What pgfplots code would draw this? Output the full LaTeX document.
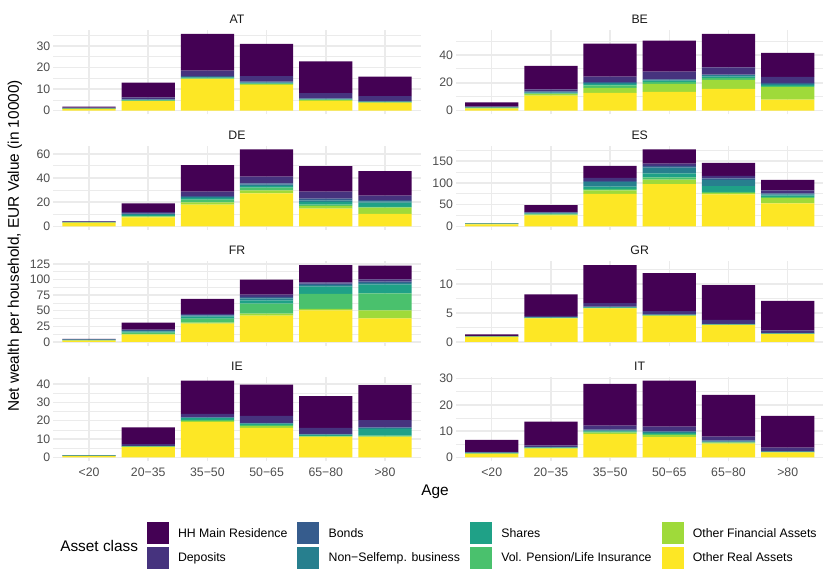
\documentclass[border=0pt]{standalone}
\usepackage{fontspec}
\setmainfont{Liberation Sans}
\usepackage{pgfplots}
\usepackage{pgfplotstable}
\pgfplotsset{compat=1.18}

\definecolor{cHMR}{HTML}{440154}
\definecolor{cDE}{HTML}{46337E}
\definecolor{cBO}{HTML}{365C8D}
\definecolor{cNS}{HTML}{277F8E}
\definecolor{cSH}{HTML}{1FA187}
\definecolor{cVP}{HTML}{4AC16D}
\definecolor{cOFA}{HTML}{9FDA3A}
\definecolor{cORA}{HTML}{FDE725}
\definecolor{gridc}{HTML}{EBEBEB}
\definecolor{tickc}{HTML}{4D4D4D}
\definecolor{stripc}{HTML}{1A1A1A}

% columns: Other Real, Other Financial, Vol. Pension, Shares, Non-Selfemp., Bonds, Deposits, HH Main Residence
\pgfplotstableread{
x ora ofa vp sh ns bo de hmr
0 0.8 0.05 0.05 0.05 0.05 0.05 0.3 0.5
1 4.4 0.2 0.2 0.1 0.2 0.1 1.0 6.8
2 14.6 0.3 0.3 0.2 0.3 0.3 2.6 17.1
3 12.0 0.3 0.3 0.2 0.3 0.4 2.6 14.9
4 4.6 0.3 0.2 0.1 0.2 0.3 2.5 14.7
5 3.6 0.2 0.2 0.1 0.1 0.3 2.3 9.0
}\dataAT
\pgfplotstableread{
x ora ofa vp sh ns bo de hmr
0 1.5 0.4 0.2 0.1 0.1 0.2 0.5 3.0
1 10.8 1.0 0.5 0.4 0.4 0.8 1.3 16.9
2 12.7 3.6 1.9 1.0 0.7 0.5 4.0 23.7
3 13.4 5.8 1.4 1.0 0.4 0.5 5.5 22.3
4 15.6 6.4 1.5 0.9 1.0 0.5 5.2 24.0
5 7.9 8.9 0.9 0.7 0.8 0.7 4.3 17.2
}\dataBE
\pgfplotstableread{
x ora ofa vp sh ns bo de hmr
0 3.0 0.1 0.1 0.1 0.1 0.2 0.4 0.2
1 7.4 0.6 0.6 0.8 0.6 0.5 1.2 7.3
2 17.9 1.9 2.2 1.4 0.8 0.8 3.6 22.0
3 27.2 2.5 2.2 1.4 1.1 1.1 5.5 22.6
4 14.6 2.2 1.1 2.2 1.4 1.3 5.8 21.2
5 10.2 5.2 0.6 3.5 1.1 1.1 3.6 20.4
}\dataDE
\pgfplotstableread{
x ora ofa vp sh ns bo de hmr
0 4.6 0.6 0.3 0.3 0.3 0.2 0.3 0.3
1 25.1 1.6 1.0 1.5 1.5 0.5 2.0 15.5
2 74.6 7.7 3.8 5.3 9.9 3.0 6.9 27.4
3 96.7 10.7 5.3 9.2 12.9 3.8 5.4 32.7
4 73.1 3.8 2.3 13.0 14.4 3.8 5.4 29.7
5 52.6 12.9 2.3 3.0 2.3 2.3 6.9 24.3
}\dataES
\pgfplotstableread{
x ora ofa vp sh ns bo de hmr
0 2.1 0.3 0.5 0.3 0.2 0.2 0.4 0.8
1 11.8 1.0 2.2 1.6 1.0 1.1 1.1 11.2
2 29.4 1.6 6.4 3.2 1.6 1.1 1.6 24.0
3 42.2 3.2 16.0 5.4 3.2 2.1 3.8 24.0
4 50.7 2.2 24.0 11.8 2.6 2.2 2.1 27.8
5 37.9 12.8 27.3 13.9 2.7 2.1 3.7 21.9
}\dataFR
\pgfplotstableread{
x ora ofa vp sh ns bo de hmr
0 0.87 0.02 0.02 0.01 0.02 0.02 0.08 0.25
1 4.07 0.05 0.03 0.03 0.05 0.05 0.2 3.72
2 5.8 0.05 0.05 0.05 0.05 0.1 0.6 6.6
3 4.5 0.05 0.04 0.03 0.03 0.1 0.55 6.6
4 2.9 0.04 0.03 0.03 0.03 0.07 0.7 6.0
5 1.35 0.03 0.02 0.02 0.03 0.1 0.45 5.1
}\dataGR
\pgfplotstableread{
x ora ofa vp sh ns bo de hmr
0 0.7 0.1 0.1 0.1 0.05 0.05 0.1 0.1
1 5.7 0.1 0.2 0.1 0.05 0.15 0.9 9.1
2 19.2 0.7 0.6 0.9 0.3 0.2 1.8 18.1
3 16.1 0.9 0.7 0.6 0.2 0.3 3.8 17.0
4 11.1 0.4 0.2 0.5 0.3 0.3 3.3 17.3
5 11.1 0.4 0.4 3.6 0.4 0.4 4.0 19.0
}\dataIE
\pgfplotstableread{
x ora ofa vp sh ns bo de hmr
0 1.4 0.1 0.1 0.1 0.05 0.15 0.2 4.6
1 3.4 0.1 0.1 0.1 0.1 0.2 0.6 9.0
2 8.9 0.5 0.4 0.2 0.3 0.3 1.5 15.9
3 7.75 0.75 0.5 0.3 0.4 0.2 1.8 17.5
4 5.3 0.3 0.1 0.15 0.25 0.4 1.4 15.9
5 1.9 0.1 0.05 0.05 0.1 0.2 1.3 12.1
}\dataIT

\newcommand{\stackbars}[1]{%
  \addplot[fill=cORA, draw=none] table[x=x,y=ora]{#1};
  \addplot[fill=cOFA, draw=none] table[x=x,y=ofa]{#1};
  \addplot[fill=cVP, draw=none] table[x=x,y=vp]{#1};
  \addplot[fill=cSH, draw=none] table[x=x,y=sh]{#1};
  \addplot[fill=cNS, draw=none] table[x=x,y=ns]{#1};
  \addplot[fill=cBO, draw=none] table[x=x,y=bo]{#1};
  \addplot[fill=cDE, draw=none] table[x=x,y=de]{#1};
  \addplot[fill=cHMR, draw=none] table[x=x,y=hmr]{#1};
}

\pgfplotsset{
  panel/.style={
    scale only axis, width=367pt, height=84.5pt,
    anchor=south west,
    xmin=-0.6, xmax=5.6,
    ybar stacked, bar width=0.9,
    xtick={0,1,2,3,4,5}, xticklabels={},
    xmajorgrids=true, ymajorgrids=true, yminorgrids=true,
    major grid style={draw=gridc, line width=1.5pt},
    minor grid style={draw=gridc, line width=0.75pt},
    axis line style={draw=none},
    tick style={draw=none},
    major tick length=0pt, minor tick length=0pt,
    /pgf/number format/assume math mode=true,
    ticklabel style={font=\fontsize{12.3}{14}\selectfont, text=tickc, inner sep=0pt},
    yticklabel style={anchor=east, xshift=-3pt},
    xticklabel style={anchor=north, yshift=-6pt},
    every axis title/.style={at={(0.5,1)}, anchor=base, yshift=6.4pt, inner sep=0pt,
      font=\fontsize{12.3}{14}\selectfont, text=stripc},
    scaled y ticks=false,
  },
  agelab/.style={xticklabels={<20,20−35,35−50,50−65,65−80,>80}},
}

\begin{document}
\begin{tikzpicture}
\path[use as bounding box] (0pt,0pt) rectangle (830pt,585pt);

% row 1
\begin{axis}[panel, at={(53.5pt,470.5pt)}, title=AT,
  ymin=-1.785, ymax=37.485, ytick={0,10,20,30}, minor ytick={5,15,25,35}]
\stackbars{\dataAT}
\end{axis}
\begin{axis}[panel, at={(456.2pt,470.5pt)}, title=BE,
  ymin=-2.755, ymax=57.855, ytick={0,20,40}, minor ytick={10,30,50}]
\stackbars{\dataBE}
\end{axis}
% row 2
\begin{axis}[panel, at={(53.5pt,354.9pt)}, title=DE,
  ymin=-3.18, ymax=66.78, ytick={0,20,40,60}, minor ytick={10,30,50}]
\stackbars{\dataDE}
\end{axis}
\begin{axis}[panel, at={(456.2pt,354.9pt)}, title=ES,
  ymin=-8.835, ymax=185.535, ytick={0,50,100,150}, minor ytick={25,75,125,175}]
\stackbars{\dataES}
\end{axis}
% row 3
\begin{axis}[panel, at={(53.5pt,239.3pt)}, title=FR,
  ymin=-6.17, ymax=129.57, ytick={0,25,50,75,100,125}, minor ytick={12.5,37.5,62.5,87.5,112.5}]
\stackbars{\dataFR}
\end{axis}
\begin{axis}[panel, at={(456.2pt,239.3pt)}, title=GR,
  ymin=-0.665, ymax=13.965, ytick={0,5,10}, minor ytick={2.5,7.5,12.5}]
\stackbars{\dataGR}
\end{axis}
% row 4
\begin{axis}[panel, agelab, at={(53.5pt,123.7pt)}, title=IE,
  ymin=-2.09, ymax=43.89, ytick={0,10,20,30,40}, minor ytick={5,15,25,35}]
\stackbars{\dataIE}
\end{axis}
\begin{axis}[panel, agelab, at={(456.2pt,123.7pt)}, title=IT,
  ymin=-1.46, ymax=30.66, ytick={0,10,20,30}, minor ytick={5,15,25}]
\stackbars{\dataIT}
\end{axis}

% axis titles
\node[font=\fontsize{15.4}{18}\selectfont, anchor=center] at (435pt,93pt) {Age};
\node[font=\fontsize{15.4}{18}\selectfont, anchor=center, rotate=90] at (15pt,339pt)
  {Net wealth per household, EUR Value (in 10000)};
\node[font=\fontsize{15.4}{18}\selectfont, anchor=center] at (99.2pt,39.4pt) {Asset class};

% legend
\begin{axis}[at={(146.7pt,39.6pt)}, anchor=south west, scale only axis,
  width=1pt, height=1pt, hide axis, xmin=0, xmax=1, ymin=0, ymax=1,
  legend columns=4, legend cell align=left,
  legend image code/.code={\fill[#1] (0pt,-11pt) rectangle (22pt,11pt);},
  legend style={at={(0,0)}, anchor=west, draw=none, fill=none,
    inner sep=0pt, outer sep=0pt, row sep=2.3pt,
    font=\fontsize{12.3}{14}\selectfont,
    nodes={inner sep=0pt, text height=8.8pt, text depth=0pt, anchor=west},
    /tikz/every odd column/.append style={column sep=9.3pt},
    /tikz/every even column/.append style={column sep=10pt}}]
\addlegendimage{fill=cHMR, draw=none}\addlegendentry{HH Main Residence}
\addlegendimage{fill=cBO, draw=none}\addlegendentry{Bonds}
\addlegendimage{fill=cSH, draw=none}\addlegendentry{Shares}
\addlegendimage{fill=cOFA, draw=none}\addlegendentry{Other Financial Assets}
\addlegendimage{fill=cDE, draw=none}\addlegendentry{Deposits}
\addlegendimage{fill=cNS, draw=none}\addlegendentry{Non−Selfemp. business}
\addlegendimage{fill=cVP, draw=none}\addlegendentry{Vol. Pension/Life Insurance}
\addlegendimage{fill=cORA, draw=none}\addlegendentry{Other Real Assets}
\end{axis}
\end{tikzpicture}
\end{document}
